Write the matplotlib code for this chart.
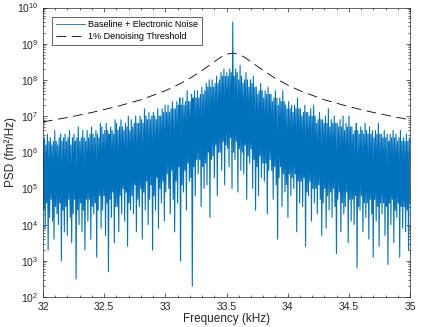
import numpy as np
import matplotlib
matplotlib.use("Agg")
import matplotlib.pyplot as plt
from matplotlib.ticker import MultipleLocator, LogLocator, NullFormatter, FixedLocator

# ---------------- data ----------------
freq_range_khz = [32.0, 35.0]

# PSD of baseline + electronic noise, in dB (10*log10 of fm^2/Hz),
# samples evenly spaced over freq_range_khz
psd_db = [
    63,44,64,39,62,46,65,33,63,42,
    64,47,62,41,63,36,66,45,63,43,
    62,40,64,46,65,30,63,44,64,38,
    65,45,63,37,64,47,66,42,62,35,
    64,43,65,47,63,25,64,44,67,40,
    63,46,64,38,66,44,64,33,63,47,
    66,41,64,47,65,36,67,45,65,43,
    64,46,66,31,65,44,64,48,68,39,
    67,44,65,48,66,37,68,46,66,27,
    65,47,67,42,66,49,65,35,69,45,
    68,45,66,38,67,48,69,43,67,50,
    66,41,68,49,67,34,70,46,66,44,
    69,48,67,43,68,51,70,38,68,47,
    68,45,70,50,69,36,68,49,72,44,
    70,52,69,40,71,47,69,51,70,33,
    71,48,70,44,69,53,72,39,70,50,
    70,46,72,52,71,41,73,49,71,54,
    73,50,71,43,72,55,74,47,72,38,
    72,52,74,46,73,56,75,30,73,51,
    75,49,73,55,74,44,77,57,74,52,
    74,53,76,23,75,56,77,48,75,58,
    77,54,75,58,76,45,78,56,76,50,
    77,57,79,51,78,60,80,42,78,58,
    80,59,78,53,79,62,81,48,79,60,
    80,60,82,55,81,63,83,51,81,62,
    82,61,81,56,83,64,82,50,96,60,
    81,58,83,63,82,49,80,61,84,55,
    81,60,79,54,80,62,82,47,80,59,
    78,57,80,61,79,50,81,58,78,44,
    78,56,76,48,77,59,79,53,77,57,
    75,52,77,57,76,43,78,55,76,58,
    76,55,74,47,75,56,77,51,75,36,
    73,53,75,56,74,45,77,54,74,49,
    73,51,72,42,74,54,72,48,73,53,
    71,50,73,54,72,38,75,52,72,46,
    72,52,70,45,71,53,73,34,71,49,
    71,48,70,52,72,41,70,50,73,46,
    70,50,68,43,69,51,71,47,69,37,
    69,46,68,50,70,39,68,48,72,44,
    67,49,69,42,68,50,70,45,68,32,
    68,47,67,49,69,38,67,46,70,43,
    66,45,68,49,67,35,70,47,67,41,
    67,47,65,40,66,48,68,28,66,45,
    65,44,67,48,66,38,65,46,68,42,
    66,46,65,36,67,47,65,43,66,31,
    64,47,66,41,65,45,68,34,65,46,
    65,43,64,46,66,37,64,45,65,29,
    63,46,65,40,64,47,66,35,64,44,
    65,42,63,46,64,31,66,45,63,39,
    64,45,63,38,65,44,63,33,64,46,
]

# 1% denoising threshold (dB)
thr_freq_khz = [32.0, 32.2, 32.4, 32.6, 32.8, 33.0, 33.1, 33.2, 33.3, 33.4,
                33.45, 33.5, 33.55, 33.6, 33.65, 33.7, 33.8, 33.9, 34.0, 34.1,
                34.3, 34.5, 34.7, 34.9, 35.0]
thr_db = [68.4, 69.6, 71.0, 72.6, 74.5, 77.0, 78.6, 80.4, 82.6, 85.0,
          86.2, 87.1, 87.4, 87.1, 86.2, 85.0, 82.6, 80.4, 78.6, 77.0,
          74.5, 72.6, 71.0, 69.6, 69.0]

series_labels = ["Baseline + Electronic Noise", "1% Denoising Threshold"]
x_label = "Frequency (kHz)"
y_label = "PSD (fm²/Hz)"
y_decades = [2, 3, 4, 5, 6, 7, 8, 9, 10]

# ---------------- style ----------------
plt.rcParams['font.family'] = ['Liberation Sans', 'DejaVu Sans']
plt.rcParams['mathtext.fontset'] = 'custom'
plt.rcParams['mathtext.rm'] = 'Liberation Sans'
plt.rcParams['mathtext.it'] = 'Liberation Sans:italic'
plt.rcParams['mathtext.bf'] = 'Liberation Sans:bold'
plt.rcParams['lines.scale_dashes'] = False

axc = '#262626'
blue = '#0072BD'

fig = plt.figure(figsize=(4.36, 3.27), dpi=100)
ax = fig.add_axes([43/436, 30/327, 367/436, 289.5/327])

freq = np.linspace(freq_range_khz[0], freq_range_khz[1], len(psd_db))
psd = 10 ** (np.array(psd_db) / 10.0)
thr = 10 ** (np.array(thr_db) / 10.0)

ax.plot(freq, psd, color=blue, lw=0.8, label=series_labels[0])
ax.plot(thr_freq_khz, thr, color='black', lw=0.6, dashes=(7, 4),
        label=series_labels[1])

ax.set_yscale('log')
ax.set_xlim(32, 35)
ax.set_ylim(1e2, 1e10)
ax.xaxis.set_major_locator(MultipleLocator(0.5))
ax.xaxis.set_minor_locator(MultipleLocator(0.1))
ax.yaxis.set_major_locator(FixedLocator([10.0 ** d for d in y_decades]))
ax.yaxis.set_minor_locator(LogLocator(base=10, subs=np.arange(2, 10), numticks=100))
ax.yaxis.set_minor_formatter(NullFormatter())
ax.yaxis.set_major_formatter(matplotlib.ticker.FuncFormatter(
    lambda v, p: r"$\mathdefault{10^{%d}}$" % round(np.log10(v))))
ax.xaxis.set_major_formatter(matplotlib.ticker.FuncFormatter(lambda v, p: f"{v:g}"))

ax.tick_params(which='both', direction='in', top=True, right=True,
               colors=axc, labelsize=7.5, width=0.5)
ax.tick_params(which='major', length=3)
ax.tick_params(which='minor', length=1.6)
for s in ax.spines.values():
    s.set_color(axc)
    s.set_linewidth(0.5)

ax.set_xlabel(x_label, fontsize=8.5, color=axc, labelpad=1)
ax.set_ylabel(y_label, fontsize=8.5, color=axc)
ax.yaxis.set_label_coords(-0.072, 0.5)

leg = ax.legend(loc='upper left', fontsize=6.5, frameon=True, fancybox=False,
                edgecolor=axc, framealpha=1, borderaxespad=1.0,
                handlelength=3.2, handletextpad=0.4, borderpad=0.4,
                labelspacing=0.35)
leg.get_frame().set_linewidth(0.5)
leg.get_lines()[0].set_linewidth(0.6)

fig.savefig('out.png', dpi=100)
